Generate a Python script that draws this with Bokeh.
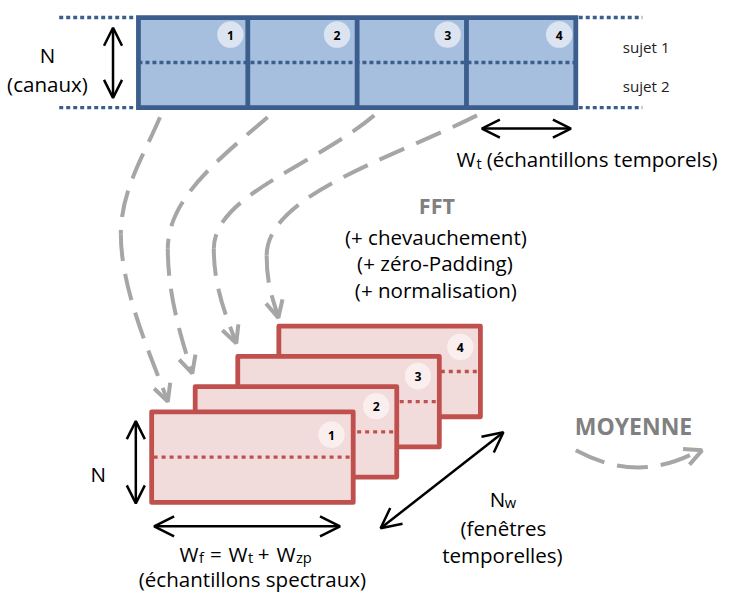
from bokeh.plotting import figure
from bokeh.models import Range1d, Arrow, OpenHead
from bokeh.embed import file_html
from bokeh.resources import INLINE
from bokeh.core.properties import value

# ---- content ----
window_labels = ["1", "2", "3", "4"]
subject_labels = ["sujet 1", "sujet 2"]
fft_title = "FFT"
fft_steps = ["(+ chevauchement)", "(+ zéro-Padding)", "(+ normalisation)"]
channel_label = ["N", "(canaux)"]
time_label = ["W", "t", "(échantillons temporels)"]
spec_label = ["W", "f", "=", "W", "t", "+", "W", "zp"]
spec_caption = "(échantillons spectraux)"
nw_label = ["N", "w", "(fenêtres", "temporelles)"]
mean_label = "MOYENNE"

FONT = value("Open Sans")
BLUE_FILL = "#a7bfde"
BLUE_LINE = "#3b5e8c"
BLUE_DOT = "#dbe4f0"
RED_FILL = "#f2dcdb"
RED_LINE = "#c0504d"
RED_DOT = "#fbeeee"
GRAY = "#a6a6a6"
TGRAY = "#808080"

W, H = 725, 592
VW, VH = 741, 608          # drawing coordinate space
K = W / VW                  # pixel scale


def fs(px):
    return f"{px * K:.2f}px"


p = figure(width=W, height=H, x_range=Range1d(0, VW), y_range=Range1d(VH, 0),
           output_backend="svg", toolbar_location=None, min_border=0,
           x_axis_location=None, y_axis_location=None)
p.grid.visible = False
p.outline_line_color = None
p.background_fill_color = "white"
p.border_fill_color = "white"

MAIN = 21
SUB = 15


def txt(x, y, t, size=MAIN, align="left", base="alphabetic", color="black", style="normal"):
    p.text(x=x, y=y, text=t, text_font=FONT, text_font_size=fs(size), text_font_style=style,
           text_align=align, text_baseline=base, text_color=color)


# ---- top block (time signal) ----
bl, br, bt, bb = 141, 588, 17.5, 110
bm = (bt + bb) / 2
n = len(window_labels)
cw = (br - bl) / n
p.quad(left=[bl], right=[br], top=[bt], bottom=[bb], fill_color=BLUE_FILL, line_color=None)
p.segment(x0=[bl], y0=[bm], x1=[br], y1=[bm], line_color=BLUE_LINE, line_width=3.4, line_dash="4 3")
divs = [bl + cw * (i + 1) for i in range(n - 1)]
p.segment(x0=divs, y0=[bt] * len(divs), x1=divs, y1=[bb] * len(divs), line_color=BLUE_LINE, line_width=4.8)
p.quad(left=[bl], right=[br], top=[bt], bottom=[bb], fill_color=None, line_color=BLUE_LINE,
       line_width=4.8, line_join="miter")
p.segment(x0=[60, 60, br + 3, br + 3], y0=[bt, bb, bt, bb], x1=[bl - 3, bl - 3, 656, 656], y1=[bt, bb, bt, bb],
          line_color=BLUE_LINE, line_width=3.4, line_dash="4 3")
cx_top = [235, 344, 457, 571]
p.circle(x=cx_top, y=[35] * n, radius=13.5, fill_color=BLUE_DOT, line_color=None)
txt(cx_top, [35.5] * n, window_labels, size=12.5, align="center", base="middle", style="bold")
txt([636, 636], [48, 88], subject_labels, size=15.5, color="#222222")
txt([48, 48], [56, 86], channel_label, align="center")

# ---- spectral blocks (stacked windows) ----
lefts = [154.5, 199, 242.5, 284.5]
tops = [422.5, 396.5, 365.5, 334.5]
rw, rh = 206, 93
circ = [(338.3, 446), (384, 416.7), (426.7, 385.7), (470, 355.7)]
for i in reversed(range(n)):
    l, t = lefts[i], tops[i]
    r, b = l + rw, t + rh
    p.quad(left=[l], right=[r], top=[t], bottom=[b], fill_color=RED_FILL, line_color=None)
    p.segment(x0=[l + 2], y0=[(t + b) / 2], x1=[r - 2], y1=[(t + b) / 2], line_color=RED_LINE,
              line_width=3.4, line_dash="4 4")
    p.quad(left=[l], right=[r], top=[t], bottom=[b], fill_color=None, line_color=RED_LINE,
           line_width=4.8, line_join="round")
    p.circle(x=[circ[i][0]], y=[circ[i][1]], radius=13.5, fill_color=RED_DOT, line_color=None)
    txt([circ[i][0]], [circ[i][1] + 0.5], [window_labels[i]], size=12.5, align="center", base="middle",
        style="bold")

# ---- gray dashed FFT arrows ----
curves = [
    # start, c0, c1, joint, c2, c3, end
    ((163, 120), (147, 158), (123, 195), (123, 240), (123, 300), (157, 372), (171, 412)),
    ((273, 120), (220, 165), (171, 205), (171, 255), (171, 305), (186, 350), (196, 383)),
    ((382, 118), (320, 170), (218, 200), (218, 255), (218, 295), (231, 325), (241, 352)),
    ((487, 118), (400, 162), (272, 200), (272, 262), (272, 295), (280, 310), (284, 326)),
]
for s, c0, c1, j, c2, c3, e in curves:
    p.bezier(x0=[s[0], j[0]], y0=[s[1], j[1]], x1=[j[0], e[0]], y1=[j[1], e[1]],
             cx0=[c0[0], c2[0]], cy0=[c0[1], c2[1]], cx1=[c1[0], c3[0]], cy1=[c1[1], c3[1]],
             line_color=GRAY, line_width=4, line_dash="27 13")
    p.add_layout(Arrow(end=OpenHead(size=17, line_color=GRAY, line_width=4),
                       x_start=c3[0], y_start=c3[1], x_end=e[0], y_end=e[1], line_alpha=0))

txt([446], [211], [fft_title], size=22, align="center", color=TGRAY, style="bold")
txt([445, 444, 445], [243, 270, 297], fft_steps, align="center")

# ---- MOYENNE ----
txt([647], [437], [mean_label], size=23.5, align="center", color=TGRAY, style="bold")
p.quadratic(x0=[588], y0=[462], x1=[714], y1=[462], cx=[652], cy=[497],
            line_color=GRAY, line_width=4, line_dash="31 13")
p.add_layout(Arrow(end=OpenHead(size=17, line_color=GRAY, line_width=4),
                   x_start=700, y_start=469, x_end=717, y_end=462, line_alpha=0))


# ---- black dimension arrows ----
def dbl(x0, y0, x1, y1, size=18):
    p.add_layout(Arrow(start=OpenHead(size=size, line_width=2.5, line_color="black"),
                       end=OpenHead(size=size, line_width=2.5, line_color="black"),
                       x_start=x0, y_start=y0, x_end=x1, y_end=y1, line_width=2.5, line_color="black"))


dbl(115, 28, 115, 100)
dbl(492, 131.5, 583, 131.5)
dbl(138.3, 432, 138.3, 516.5)
dbl(157, 540, 347, 540, size=20)
dbl(388.5, 542, 514, 443.5, size=20)

# ---- labels with subscripts ----
txt([466], [163], [time_label[0]])
txt([486.5], [166.5], [time_label[1]], size=SUB)
txt([497], [163], [time_label[2]])

txt([100], [486], [channel_label[0]], align="center")

big_idx = [0, 2, 3, 5, 6]
big_x = [183, 214, 233, 263, 282]
sub_idx = [1, 4, 7]
sub_x = [203, 253, 302]
txt(big_x, [568] * 5, [spec_label[i] for i in big_idx])
txt(sub_x, [571.5] * 3, [spec_label[i] for i in sub_idx], size=SUB)
txt([257.5], [594], [spec_caption], align="center")

txt([500], [512], [nw_label[0]])
txt([515.5], [515.5], [nw_label[1]], size=SUB)
txt([514, 513], [542, 569], nw_label[2:], align="center")

open("out.html", "w").write(file_html(p, INLINE))
